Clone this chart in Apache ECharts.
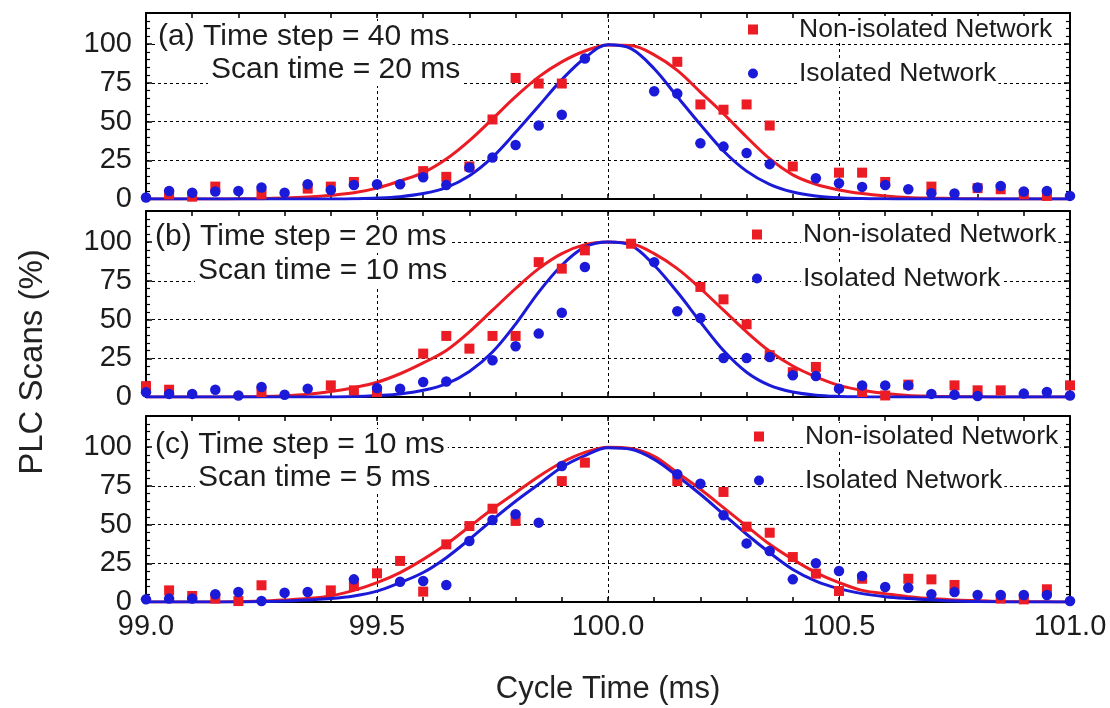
<!DOCTYPE html>
<html>
<head>
<meta charset="utf-8">
<script src="https://cdn.jsdelivr.net/npm/echarts@6/dist/echarts.min.js"></script>
<style>
  html, body { margin: 0; padding: 0; background: #fff; }
  #chart { width: 1110px; height: 708px; }
</style>
</head>
<body>
<div id="chart"></div>
<script>
// Cycle time sample points (ms)
const cycleTimes = [
  99.00, 99.05, 99.10, 99.15, 99.20, 99.25, 99.30, 99.35, 99.40, 99.45,
  99.50, 99.55, 99.60, 99.65, 99.70, 99.75, 99.80, 99.85, 99.90, 99.95,
  100.00, 100.05, 100.10, 100.15, 100.20, 100.25, 100.30, 100.35, 100.40, 100.45,
  100.50, 100.55, 100.60, 100.65, 100.70, 100.75, 100.80, 100.85, 100.90, 100.95,
  101.00
];

// (a) time step 40 ms, scan time 20 ms
const nonIsolatedA = [
  null, 3, 1.5, 8, null, 3, null, 6.7, 8, 11,
  null, null, 18, 14.3, 21, 51.3, 78.1, 74.5, 74.5, null,
  null, null, null, 88.5, 61, 57.6, 61, 47.4, 21, null,
  17, 17, 11, null, 8, null, 7, 6.3, 3, 2,
  null
];
const isolatedA = [
  1, 5.2, 4, 4.8, 5.2, 7.4, 4, 9.5, 5.8, 9,
  9.5, 9.5, 14, 9, 20.3, 26.8, 34.8, 47.4, 54.3, 90.7,
  null, null, 69.5, 68, 36, 33.8, 29.7, 22.5, null, 13.4,
  10.2, 7.8, 9, 6.3, 3.7, 3.5, 7.4, 8.4, 4.8, 5.2,
  2
];
const nonIsolatedFitA = [
  0, 0, 0, 0, 0.1, 0.2, 0.6, 1.3, 2.4, 4,
  7, 11.7, 17, 25.8, 37.7, 51.7, 66, 78.8, 88.5, 95.5,
  99.4, 99, 93, 83, 69, 55, 40, 26, 15.6, 9.5,
  5.8, 3.5, 2, 1, 0.6, 0.3, 0.1, 0, 0, 0,
  0
];
const isolatedFitA = [
  0, 0, 0, 0, 0, 0, 0, 0, 0, 0.2,
  0.6, 1.5, 3.5, 7.4, 15, 27, 43, 60, 77, 91,
  99.5, 97, 84, 66, 48, 31, 18, 9.5, 4.5, 2,
  0.8, 0.3, 0.1, 0, 0, 0, 0, 0, 0, 0,
  0
];

// (b) time step 20 ms, scan time 10 ms
const nonIsolatedB = [
  7, 4.7, null, null, null, 3.2, null, null, 7.5, 4.3,
  3.2, null, 28, 39.4, 31.2, 39.4, 39.4, 87, 82.8, 94.6,
  null, 98.9, null, null, 71, 63, 46.9, 27, 16, 19.4,
  null, 3.2, 1, 8, null, 7.5, 4.3, 4.3, null, null,
  7.5
];
const isolatedB = [
  3, 2, 2, 4.7, 1, 6.5, 1.5, 5.4, null, null,
  5.8, 5.4, 9.7, 10, null, 23.7, 32.7, 40.9, 54.4, 83.9,
  null, null, 87, 55.3, 51, 25.2, 25.2, 25.8, 14, 13.5,
  5.4, 7.5, 7.5, 7.5, 2, 1.5, 0.6, null, 2.2, 3.2,
  1
];
const nonIsolatedFitB = [
  0, 0, 0, 0, 0.1, 0.3, 0.8, 1.8, 3.5, 6,
  9.5, 15, 22, 30, 42, 56, 70, 82.8, 92.5, 98.3,
  100, 99, 92.5, 82.8, 70, 56, 42, 29.5, 20, 13,
  7.5, 4.3, 2.2, 1, 0.5, 0.2, 0.1, 0, 0, 0,
  0
];
const isolatedFitB = [
  0, 0, 0, 0, 0, 0, 0, 0, 0, 0.3,
  1, 2, 4.3, 8.5, 16.5, 29, 47, 67.7, 85, 96.8,
  100, 97.8, 85, 67.7, 48.4, 30, 16, 7.5, 3.2, 1.2,
  0.4, 0.1, 0, 0, 0, 0, 0, 0, 0, 0,
  0
];

// (c) time step 10 ms, scan time 5 ms
const nonIsolatedC = [
  null, 7.5, 3.9, 2.2, 0.6, 10.8, null, null, 7.5, 10.3,
  18.5, 26.5, 6.7, 37.2, 49, 60.2, 52.3, null, 78, 89.9,
  null, null, null, 78, null, 71, 48.6, 44.7, 29, 18.3,
  7.1, 15, null, 15, 14.6, 11, null, 2.2, 1.7, 8.2,
  null
];
const isolatedC = [
  1.7, 2.2, 2.2, 5, 6.5, 0.6, 6, 6.5, null, 14.6,
  null, 13.1, 13.5, 11, 39.4, 52.9, 56.6, 51.2, 87.7, null,
  null, null, null, 82.4, 76.3, 55.9, 37.8, 32.9, 14.6, 25,
  20, 16.8, 9.7, 9.2, 5, 6.5, 4.5, 4.5, 4.5, 4.5,
  0.6
];
const nonIsolatedFitC = [
  0, 0, 0, 0, 0.3, 0.6, 1.3, 2.2, 3.9, 7.5,
  12.5, 19, 27.5, 37.2, 48.6, 60, 70.5, 81, 90, 96.5,
  99.8, 99, 94, 83.4, 72.7, 60.9, 49, 37.2, 27.5, 19,
  12.5, 7.5, 5.4, 3.4, 2.2, 1.3, 0.9, 0.4, 0.2, 0.1,
  0
];
const isolatedFitC = [
  0, 0, 0, 0, 0, 0.3, 0.6, 1.3, 2.2, 3.9,
  7, 12.5, 19, 28.6, 40.4, 53, 65, 76, 87, 94.5,
  99.5, 98.5, 92, 81.3, 69.5, 56.6, 43.7, 31.8, 21, 13.5,
  8.6, 5.4, 3.4, 2.2, 1.3, 0.6, 0.3, 0.1, 0, 0,
  0
];

const xTickLabels = ['99.0', '99.5', '100.0', '100.5', '101.0'];
const yTickLabels = ['0', '25', '50', '75', '100'];
const panelNotes = [
  ['(a) Time step = 40 ms', 'Scan time = 20 ms'],
  ['(b) Time step = 20 ms', 'Scan time = 10 ms'],
  ['(c) Time step = 10 ms', 'Scan time = 5 ms']
];
const seriesNames = ['Non-isolated Network', 'Isolated Network'];

const RED = '#ec1c24';
const BLUE = '#1a1ad8';
const FONT = '"Liberation Sans", Arial, sans-serif';
const INK = '#1c1c1c';

const panels = [
  { pts: [nonIsolatedA, isolatedA], fit: [nonIsolatedFitA, isolatedFitA] },
  { pts: [nonIsolatedB, isolatedB], fit: [nonIsolatedFitB, isolatedFitB] },
  { pts: [nonIsolatedC, isolatedC], fit: [nonIsolatedFitC, isolatedFitC] }
];

// panel boxes
const gridTops = [13, 211, 416];
const gridHeight = 186;
const legendTops = [16, 221, 423];
const legendLefts = [748, 752, 754];
const noteBoxes = [
  [[155, 37], [208, 70]],
  [[152, 237], [195, 271]],
  [[152, 445], [195, 478]]
];

const pair = (vals) => cycleTimes
  .map((x, i) => (vals[i] == null ? null : [x, vals[i]]))
  .filter(Boolean);

const dashed = { color: '#000', type: [3, 3], width: 1 };

const grid = [], xAxis = [], yAxis = [], series = [], legend = [], graphic = [];

panels.forEach((p, k) => {
  grid.push({ left: 146, right: 40, top: gridTops[k], height: gridHeight, outerBoundsMode: 'none' });
  const last = k === panels.length - 1;

  // bottom axis
  xAxis.push({
    type: 'value', gridIndex: k, min: 99, max: 101, interval: 0.5,
    axisLine: { show: true, onZero: false, lineStyle: { color: '#000', width: 2 } },
    axisTick: { show: true, inside: true, length: 5, lineStyle: { color: '#000', width: 1.5 } },
    minorTick: { show: true, splitNumber: 5, length: 5, lineStyle: { color: '#000', width: 1.5 } },
    splitLine: { show: true, lineStyle: dashed },
    axisLabel: {
      show: last, margin: 10, fontSize: 29, color: INK, fontFamily: FONT,
      formatter: (v) => xTickLabels.find((t) => Math.abs(parseFloat(t) - v) < 1e-6) || ''
    },
    name: last ? 'Cycle Time (ms)' : '',
    nameLocation: 'middle', nameGap: 72,
    nameTextStyle: { fontSize: 31, color: '#222', fontFamily: FONT }
  });
  // top axis (ticks only)
  xAxis.push({
    type: 'value', gridIndex: k, min: 99, max: 101, interval: 0.5, position: 'top',
    axisLine: { show: true, onZero: false, lineStyle: { color: '#000', width: 2 } },
    axisTick: { show: true, inside: true, length: 5, lineStyle: { color: '#000', width: 1.5 } },
    minorTick: { show: true, splitNumber: 5, length: 5, lineStyle: { color: '#000', width: 1.5 } },
    splitLine: { show: false }, axisLabel: { show: false }
  });
  // left axis
  yAxis.push({
    type: 'value', gridIndex: k, min: 0, max: 120, interval: 25,
    axisLine: { show: true, onZero: false, lineStyle: { color: '#000', width: 2 } },
    axisTick: { show: true, inside: true, length: 6, lineStyle: { color: '#000', width: 1.5 } },
    minorTick: { show: true, splitNumber: 5, length: 4, lineStyle: { color: '#000', width: 1.2 } },
    splitLine: { show: true, lineStyle: dashed },
    axisLabel: {
      margin: 14, fontSize: 29, color: INK, fontFamily: FONT, showMaxLabel: false,
      formatter: (v) => yTickLabels.find((t) => Number(t) === v) || ''
    }
  });
  // right axis (ticks only)
  yAxis.push({
    type: 'value', gridIndex: k, min: 0, max: 120, interval: 25, position: 'right',
    axisLine: { show: true, onZero: false, lineStyle: { color: '#000', width: 2 } },
    axisTick: { show: true, inside: true, length: 6, lineStyle: { color: '#000', width: 1.5 } },
    minorTick: { show: true, splitNumber: 5, length: 4, lineStyle: { color: '#000', width: 1.2 } },
    splitLine: { show: false }, axisLabel: { show: false }
  });

  const xi = 2 * k, yi = 2 * k;
  // fitted curves
  [RED, BLUE].forEach((c, j) => {
    series.push({
      type: 'line', name: seriesNames[j] + ' fit', xAxisIndex: xi, yAxisIndex: yi,
      data: pair(p.fit[j]), smooth: 0.35, showSymbol: false, silent: true,
      lineStyle: { color: c, width: 3 }, itemStyle: { color: c }, z: 2
    });
  });
  // measured points: squares then dots
  series.push({
    type: 'scatter', name: seriesNames[0], xAxisIndex: xi, yAxisIndex: yi,
    data: pair(p.pts[0]), symbol: 'rect', symbolSize: 10,
    itemStyle: { color: RED, opacity: 1 }, z: 3
  });
  series.push({
    type: 'scatter', name: seriesNames[1], xAxisIndex: xi, yAxisIndex: yi,
    data: pair(p.pts[1]), symbol: 'circle', symbolSize: 10.5,
    itemStyle: { color: BLUE, opacity: 1 }, z: 4
  });

  legend.push({
    orient: 'vertical', left: legendLefts[k], top: legendTops[k], padding: 0,
    itemWidth: 10, itemHeight: 10, itemGap: 17, selectedMode: false,
    data: [{ name: seriesNames[0], icon: 'rect' }, { name: seriesNames[1], icon: 'circle' }],
    formatter: (name) => '{s| }{t|' + name + '}',
    textStyle: {
      rich: {
        s: { width: 34 },
        t: { fontSize: 26.5, lineHeight: 30, color: INK, fontFamily: FONT, backgroundColor: '#fff', padding: [0, 2] }
      }
    }
  });

  panelNotes[k].forEach((txt, j) => {
    graphic.push({
      type: 'text', x: noteBoxes[k][j][0], y: noteBoxes[k][j][1], z: 10,
      style: {
        text: txt, fill: INK, font: '30px ' + FONT, verticalAlign: 'middle',
        backgroundColor: '#fff', padding: [1, 3]
      }
    });
  });
});

graphic.push({
  type: 'text', x: 33, y: 362, rotation: Math.PI / 2, z: 10,
  style: {
    text: 'PLC Scans (%)', fill: '#222', font: '33px ' + FONT,
    align: 'center', verticalAlign: 'middle'
  }
});

const chart = echarts.init(document.getElementById('chart'), null, { renderer: 'canvas' });
chart.setOption({
  backgroundColor: '#fff',
  animation: false,
  grid, xAxis, yAxis, series, legend, graphic
});
</script>
</body>
</html>
